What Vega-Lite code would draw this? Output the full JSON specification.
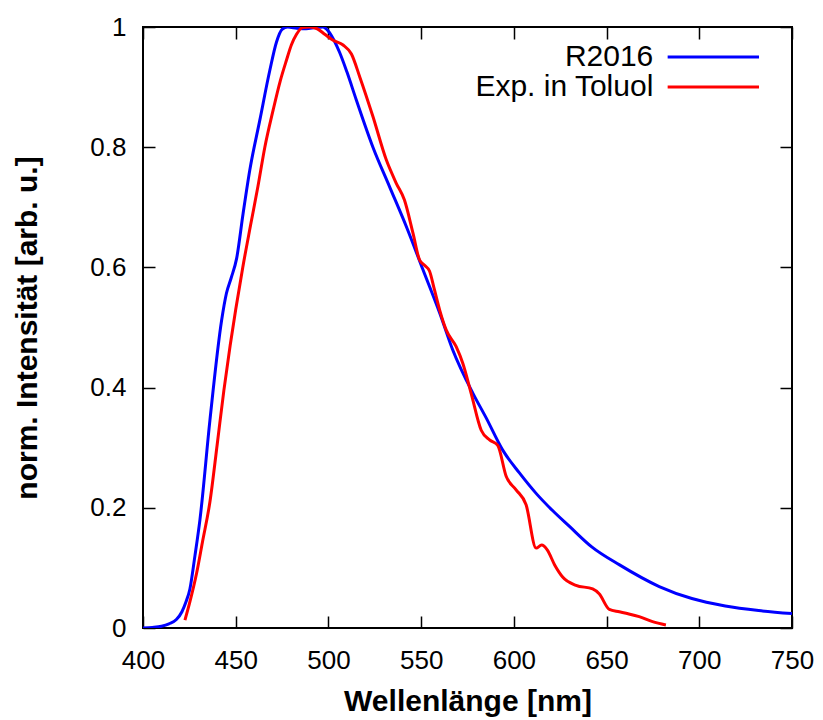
{
  "$schema": "https://vega.github.io/schema/vega-lite/v6.json",
  "width": 649,
  "height": 601,
  "autosize": "none",
  "padding": {"left": 143, "top": 27, "right": 31, "bottom": 92},
  "background": "white",
  "config": {
    "view": {"stroke": "black", "strokeWidth": 2},
    "axis": {
      "domain": false,
      "grid": false,
      "ticks": true,
      "tickSize": -12,
      "tickWidth": 1.5,
      "tickColor": "black",
      "labelFont": "Liberation Sans",
      "labelFontSize": 26,
      "labelColor": "black",
      "titleFont": "Liberation Sans",
      "titleFontWeight": "bold",
      "titleFontSize": 30,
      "titleColor": "black"
    },
    "legend": {
      "labelFont": "Liberation Sans",
      "labelFontSize": 30,
      "labelColor": "black",
      "labelLimit": 0
    }
  },
  "data": {
    "values": [
      {"series": "R2016", "wl": 400, "I": 0},
      {"series": "R2016", "wl": 405, "I": 0.001},
      {"series": "R2016", "wl": 410, "I": 0.003},
      {"series": "R2016", "wl": 414, "I": 0.007},
      {"series": "R2016", "wl": 418, "I": 0.014},
      {"series": "R2016", "wl": 421, "I": 0.027},
      {"series": "R2016", "wl": 423, "I": 0.042},
      {"series": "R2016", "wl": 425.3, "I": 0.065},
      {"series": "R2016", "wl": 428, "I": 0.12},
      {"series": "R2016", "wl": 430.7, "I": 0.18},
      {"series": "R2016", "wl": 436.1, "I": 0.346},
      {"series": "R2016", "wl": 442.4, "I": 0.512},
      {"series": "R2016", "wl": 445, "I": 0.557},
      {"series": "R2016", "wl": 447.5, "I": 0.582},
      {"series": "R2016", "wl": 450.5, "I": 0.615},
      {"series": "R2016", "wl": 454, "I": 0.69},
      {"series": "R2016", "wl": 457.6, "I": 0.762},
      {"series": "R2016", "wl": 463, "I": 0.845},
      {"series": "R2016", "wl": 468.4, "I": 0.928},
      {"series": "R2016", "wl": 472, "I": 0.975},
      {"series": "R2016", "wl": 475, "I": 0.996},
      {"series": "R2016", "wl": 478, "I": 1.0},
      {"series": "R2016", "wl": 483, "I": 0.998},
      {"series": "R2016", "wl": 488, "I": 0.997},
      {"series": "R2016", "wl": 493, "I": 0.999},
      {"series": "R2016", "wl": 497, "I": 1.0},
      {"series": "R2016", "wl": 500, "I": 0.993},
      {"series": "R2016", "wl": 503, "I": 0.978},
      {"series": "R2016", "wl": 506, "I": 0.958},
      {"series": "R2016", "wl": 510, "I": 0.925},
      {"series": "R2016", "wl": 515, "I": 0.879},
      {"series": "R2016", "wl": 524, "I": 0.8},
      {"series": "R2016", "wl": 533, "I": 0.734},
      {"series": "R2016", "wl": 542, "I": 0.668},
      {"series": "R2016", "wl": 551, "I": 0.596},
      {"series": "R2016", "wl": 560, "I": 0.524},
      {"series": "R2016", "wl": 567, "I": 0.463},
      {"series": "R2016", "wl": 578, "I": 0.39},
      {"series": "R2016", "wl": 585, "I": 0.35},
      {"series": "R2016", "wl": 594, "I": 0.296},
      {"series": "R2016", "wl": 603, "I": 0.258},
      {"series": "R2016", "wl": 612, "I": 0.224},
      {"series": "R2016", "wl": 621, "I": 0.195},
      {"series": "R2016", "wl": 630, "I": 0.169},
      {"series": "R2016", "wl": 642, "I": 0.135},
      {"series": "R2016", "wl": 657, "I": 0.105},
      {"series": "R2016", "wl": 678.4, "I": 0.069},
      {"series": "R2016", "wl": 696, "I": 0.049},
      {"series": "R2016", "wl": 714, "I": 0.0366},
      {"series": "R2016", "wl": 732, "I": 0.029},
      {"series": "R2016", "wl": 750, "I": 0.024},
      {"series": "Exp. in Toluol", "wl": 422.6, "I": 0.013},
      {"series": "Exp. in Toluol", "wl": 425, "I": 0.04},
      {"series": "Exp. in Toluol", "wl": 428.9, "I": 0.091},
      {"series": "Exp. in Toluol", "wl": 432, "I": 0.142},
      {"series": "Exp. in Toluol", "wl": 436.1, "I": 0.21},
      {"series": "Exp. in Toluol", "wl": 440, "I": 0.305},
      {"series": "Exp. in Toluol", "wl": 443.6, "I": 0.395},
      {"series": "Exp. in Toluol", "wl": 447, "I": 0.47},
      {"series": "Exp. in Toluol", "wl": 450, "I": 0.53},
      {"series": "Exp. in Toluol", "wl": 453.8, "I": 0.6},
      {"series": "Exp. in Toluol", "wl": 458, "I": 0.67},
      {"series": "Exp. in Toluol", "wl": 462, "I": 0.735},
      {"series": "Exp. in Toluol", "wl": 465.7, "I": 0.8},
      {"series": "Exp. in Toluol", "wl": 470.2, "I": 0.862},
      {"series": "Exp. in Toluol", "wl": 474, "I": 0.91},
      {"series": "Exp. in Toluol", "wl": 477.4, "I": 0.945},
      {"series": "Exp. in Toluol", "wl": 480, "I": 0.97},
      {"series": "Exp. in Toluol", "wl": 482.8, "I": 0.988},
      {"series": "Exp. in Toluol", "wl": 486, "I": 0.999},
      {"series": "Exp. in Toluol", "wl": 490, "I": 1.0},
      {"series": "Exp. in Toluol", "wl": 494, "I": 0.997},
      {"series": "Exp. in Toluol", "wl": 498, "I": 0.988},
      {"series": "Exp. in Toluol", "wl": 502.5, "I": 0.978},
      {"series": "Exp. in Toluol", "wl": 507.9, "I": 0.97},
      {"series": "Exp. in Toluol", "wl": 512.4, "I": 0.955},
      {"series": "Exp. in Toluol", "wl": 516.9, "I": 0.917},
      {"series": "Exp. in Toluol", "wl": 524, "I": 0.851},
      {"series": "Exp. in Toluol", "wl": 531.2, "I": 0.779},
      {"series": "Exp. in Toluol", "wl": 536.6, "I": 0.74},
      {"series": "Exp. in Toluol", "wl": 541, "I": 0.712},
      {"series": "Exp. in Toluol", "wl": 545.6, "I": 0.657},
      {"series": "Exp. in Toluol", "wl": 549.2, "I": 0.612},
      {"series": "Exp. in Toluol", "wl": 552, "I": 0.603},
      {"series": "Exp. in Toluol", "wl": 554.5, "I": 0.594},
      {"series": "Exp. in Toluol", "wl": 557, "I": 0.565},
      {"series": "Exp. in Toluol", "wl": 560, "I": 0.529},
      {"series": "Exp. in Toluol", "wl": 563.5, "I": 0.496},
      {"series": "Exp. in Toluol", "wl": 568.9, "I": 0.468},
      {"series": "Exp. in Toluol", "wl": 572.5, "I": 0.44},
      {"series": "Exp. in Toluol", "wl": 577, "I": 0.39},
      {"series": "Exp. in Toluol", "wl": 582.4, "I": 0.329},
      {"series": "Exp. in Toluol", "wl": 586.9, "I": 0.313},
      {"series": "Exp. in Toluol", "wl": 591.3, "I": 0.304},
      {"series": "Exp. in Toluol", "wl": 595.9, "I": 0.252},
      {"series": "Exp. in Toluol", "wl": 601.2, "I": 0.23},
      {"series": "Exp. in Toluol", "wl": 606.6, "I": 0.205},
      {"series": "Exp. in Toluol", "wl": 612, "I": 0.133},
      {"series": "Exp. in Toluol", "wl": 615, "I": 0.138},
      {"series": "Exp. in Toluol", "wl": 618, "I": 0.13},
      {"series": "Exp. in Toluol", "wl": 622, "I": 0.105},
      {"series": "Exp. in Toluol", "wl": 626.3, "I": 0.085},
      {"series": "Exp. in Toluol", "wl": 633.5, "I": 0.071},
      {"series": "Exp. in Toluol", "wl": 642.5, "I": 0.065},
      {"series": "Exp. in Toluol", "wl": 646, "I": 0.057},
      {"series": "Exp. in Toluol", "wl": 651.5, "I": 0.031},
      {"series": "Exp. in Toluol", "wl": 656.9, "I": 0.027},
      {"series": "Exp. in Toluol", "wl": 660.5, "I": 0.0245},
      {"series": "Exp. in Toluol", "wl": 667.6, "I": 0.019},
      {"series": "Exp. in Toluol", "wl": 674.8, "I": 0.0105},
      {"series": "Exp. in Toluol", "wl": 682, "I": 0.005}
    ]
  },
  "layer": [
    {
      "mark": {"type": "line", "strokeWidth": 3, "interpolate": "monotone", "clip": true},
      "encoding": {
        "x": {
          "field": "wl", "type": "quantitative",
          "scale": {"domain": [400, 750], "nice": false, "zero": false},
          "axis": {
            "orient": "bottom",
            "values": [400, 450, 500, 550, 600, 650, 700, 750],
            "labelPadding": 31,
            "labelFlush": false,
            "title": "Wellenlänge [nm]",
            "titleBaseline": "alphabetic",
            "titleX": 324.5,
            "titleY": 82
          }
        },
        "y": {
          "field": "I", "type": "quantitative",
          "scale": {"domain": [0, 1], "nice": false},
          "axis": {
            "orient": "left",
            "values": [0, 0.2, 0.4, 0.6, 0.8, 1],
            "labelExpr": "datum.value == 0 ? '0' : datum.value == 1 ? '1' : format(datum.value, '.1f')",
            "labelPadding": 29,
            "labelFlush": false,
            "title": "norm. Intensität [arb. u.]",
            "titleBaseline": "alphabetic",
            "titleX": -107,
            "titleY": 300.5
          }
        },
        "color": {
          "field": "series", "type": "nominal",
          "scale": {"domain": ["R2016", "Exp. in Toluol"], "range": ["#0000ff", "#ff0000"]},
          "legend": {
            "title": null,
            "orient": "none",
            "legendX": 509.65,
            "legendY": 15,
            "symbolType": "M0,0H21",
            "symbolSize": 75.7,
            "symbolStrokeWidth": 3,
            "labelAlign": "right",
            "labelOffset": -29.35,
            "rowPadding": -1
          }
        }
      }
    },
    {
      "mark": {"type": "line", "opacity": 0},
      "encoding": {
        "x": {
          "field": "wl", "type": "quantitative",
          "axis": {"orient": "top", "values": [400, 450, 500, 550, 600, 650, 700, 750], "labels": false, "title": null}
        },
        "y": {
          "field": "I", "type": "quantitative",
          "axis": {"orient": "right", "values": [0, 0.2, 0.4, 0.6, 0.8, 1], "labels": false, "title": null}
        },
        "detail": {"field": "series"}
      }
    }
  ],
  "resolve": {"axis": {"x": "independent", "y": "independent"}}
}
